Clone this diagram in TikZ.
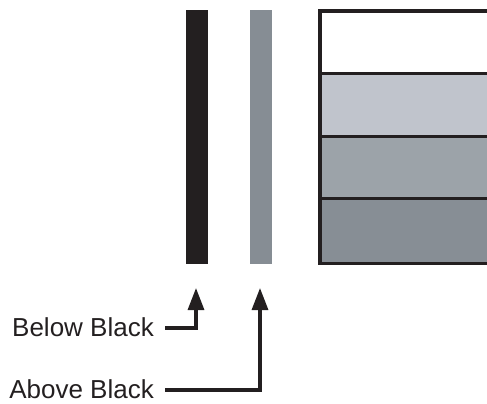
\documentclass[tikz,border=0pt]{standalone}
\usepackage{fontspec}
\setmainfont{Liberation Sans}
\usetikzlibrary{arrows.meta}
\definecolor{barblack}{HTML}{231F20}
\definecolor{bargray}{HTML}{868D94}
\definecolor{rowa}{HTML}{C0C4CC}
\definecolor{rowb}{HTML}{9CA3A9}
\definecolor{rowc}{HTML}{878E95}
\tikzset{
  bar/.style={draw=none, minimum width=22pt, minimum height=254pt, inner sep=0pt, anchor=north west},
  lbl/.style={font=\fontsize{26}{30}\selectfont, text=barblack, inner sep=0pt, anchor=base east},
  pointer/.style={line width=3.2pt, draw=barblack, -{Triangle[length=22pt,width=16pt]}},
  edge/.style={line width=3.8pt, draw=barblack},
}
\begin{document}
\begin{tikzpicture}[x=1pt,y=-1pt]
\useasboundingbox (0,0) rectangle (487,404);
\clip (0,0) rectangle (487,404);
% bars
\node[bar, fill=barblack] (blackbar) at (186,10) {};
\node[bar, fill=bargray] (graybar) at (250,10) {};
% boxes
\fill[white] (320,11) rectangle (500,73.5);
\fill[rowa] (320,73.5) rectangle (500,136.5);
\fill[rowb] (320,136.5) rectangle (500,198.5);
\fill[rowc] (320,198.5) rectangle (500,263.5);
\draw[edge] (500,11) -- (320,11) -- (320,263.5) -- (500,263.5);
\draw[edge] (320,73.5) -- (500,73.5);
\draw[edge] (320,136.5) -- (500,136.5);
\draw[edge] (320,198.5) -- (500,198.5);
% labels
\node[lbl] (below) at (154,336) {Below Black};
\node[lbl] (above) at (154,398) {Above Black};
\coordinate (btip) at (196,288);
\coordinate (atip) at (260,288);
\coordinate (bstart) at (165,328);
\coordinate (astart) at (165,390);
\draw[pointer] (bstart) -| (btip);
\draw[pointer] (astart) -| (atip);
\end{tikzpicture}
\end{document}
